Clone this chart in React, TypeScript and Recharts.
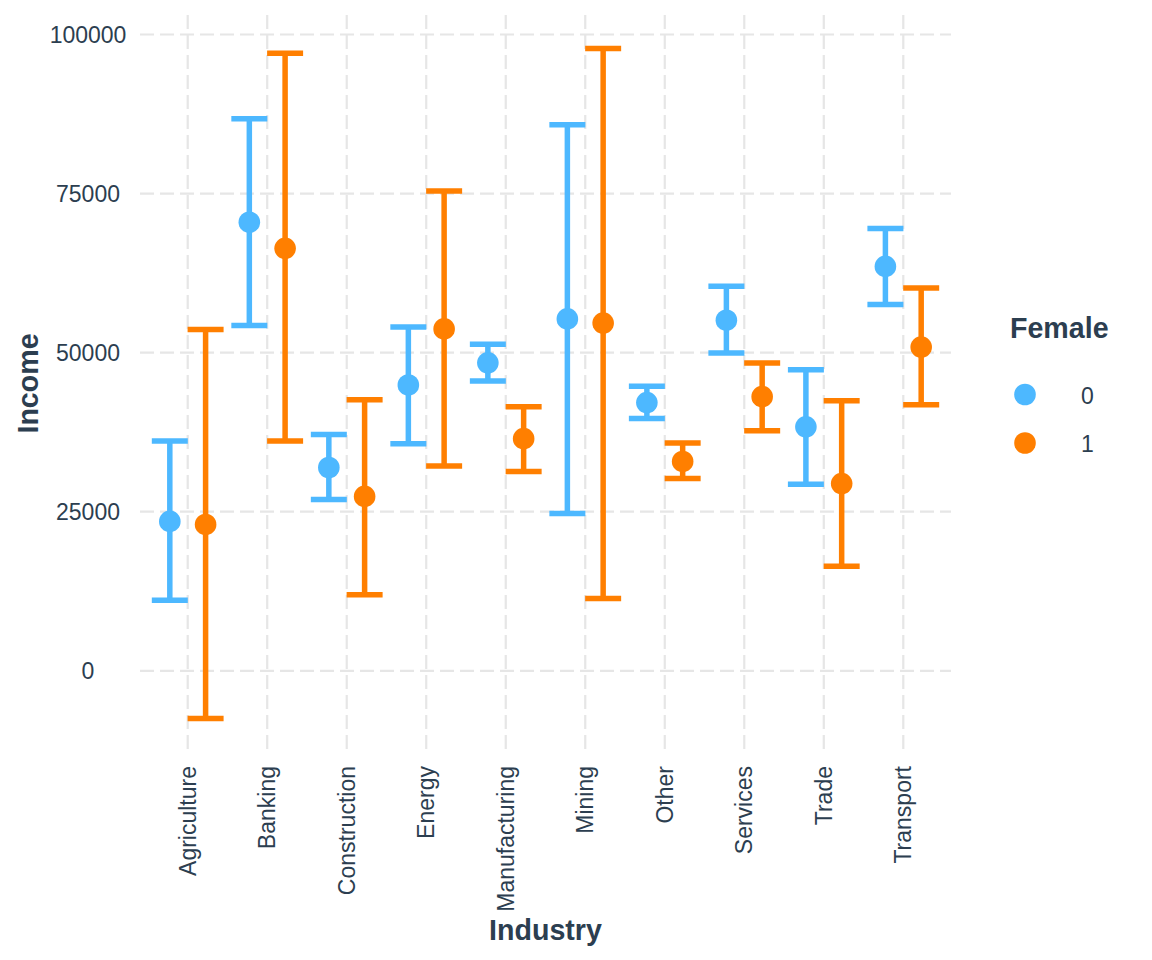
import React from 'react'
import { ComposedChart, Scatter, ErrorBar, XAxis, YAxis, CartesianGrid } from 'recharts'

const industries = [
  'Agriculture', 'Banking', 'Construction', 'Energy', 'Manufacturing',
  'Mining', 'Other', 'Services', 'Trade', 'Transport',
]

// Female = 0
const maleMean = [23480, 70500, 31950, 44920, 48400, 55300, 42150, 55100, 38350, 63550]
const maleLow = [11100, 54260, 26920, 35700, 45560, 24700, 39630, 49950, 29300, 57550]
const maleHigh = [36100, 86770, 37120, 54030, 51330, 85800, 44700, 60450, 47300, 69500]

// Female = 1
const femaleMean = [23000, 66400, 27410, 53730, 36480, 54650, 32900, 43080, 29430, 50880]
const femaleLow = [-7500, 36100, 11960, 32170, 31310, 11350, 30220, 37720, 16420, 41810]
const femaleHigh = [53620, 97050, 42600, 75400, 41510, 97800, 35780, 48370, 42450, 60150]

const groups = ['0', '1']
const yTicks = [0, 25000, 50000, 75000, 100000]
const xTicks = industries.map((_, i) => i + 1)

const BLUE = '#4db8ff'
const ORANGE = '#ff7f00'
const TEXT = '#2c3e50'
const FONT = '"Liberation Sans", Arial, sans-serif'
const DODGE = 0.225

const buildRows = (mean: number[], low: number[], high: number[], shift: number) =>
  industries.map((name, i) => ({
    name,
    x: i + 1 + shift,
    y: mean[i],
    err: [mean[i] - low[i], high[i] - mean[i]],
  }))

const maleRows = buildRows(maleMean, maleLow, maleHigh, -DODGE)
const femaleRows = buildRows(femaleMean, femaleLow, femaleHigh, DODGE)

// ggplot default expansion: 5% of the range on each side (0.6 for discrete x)
const yMin = Math.min(...maleLow, ...femaleLow)
const yMax = Math.max(...maleHigh, ...femaleHigh)
const pad = (yMax - yMin) * 0.05
const yDomain = [yMin - pad, yMax + pad]
const xDomain = [0.4, industries.length + 0.6]

// grid only at the tick values, no lines on the panel edges
const hLines = ({ offset }: any) =>
  yTicks.map((t) => offset.top + (offset.height * (yDomain[1] - t)) / (yDomain[1] - yDomain[0]))
const vLines = ({ offset }: any) =>
  xTicks.map((t) => offset.left + (offset.width * (t - xDomain[0])) / (xDomain[1] - xDomain[0]))

const IndustryTick = ({ x, y, payload }: any) => (
  <text
    x={x}
    y={y}
    dy="0.35em"
    transform={`rotate(-90, ${x}, ${y})`}
    textAnchor="end"
    fontSize={23}
    fontFamily={FONT}
    fill={TEXT}
  >
    {industries[payload.value - 1]}
  </text>
)

const IncomeTick = ({ x, y, payload }: any) => (
  <text x={x} y={y} dy="0.35em" textAnchor="middle" fontSize={23} fontFamily={FONT} fill={TEXT}>
    {payload.value}
  </text>
)

const XTitle = (props: any) => {
  const vb = props.viewBox ?? props
  return (
    <text
      x={vb.x + vb.width / 2}
      y={vb.y + 188}
      textAnchor="middle"
      fontSize={28.6}
      fontWeight="bold"
      fontFamily={FONT}
      fill={TEXT}
    >
      Industry
    </text>
  )
}

const YTitle = (props: any) => {
  const vb = props.viewBox ?? props
  const cx = vb.x + 37.5
  const cy = vb.y + vb.height / 2
  return (
    <text
      x={cx}
      y={cy}
      transform={`rotate(-90, ${cx}, ${cy})`}
      textAnchor="middle"
      fontSize={28.6}
      fontWeight="bold"
      fontFamily={FONT}
      fill={TEXT}
    >
      Income
    </text>
  )
}

const dot = (color: string) => (p: any) => <circle cx={p.cx} cy={p.cy} r={10.8} fill={color} />

export default function App() {
  const colors = [BLUE, ORANGE]
  return (
    <div style={{ position: 'absolute', left: 0, top: 0, width: 1152, height: 960, background: '#fff' }}>
      <ComposedChart width={1152} height={960} margin={{ top: 15, right: 201, bottom: 0, left: 0 }}>
        <CartesianGrid
          stroke="#e6e6e6"
          strokeWidth={2.2}
          strokeDasharray="14 6"
          horizontalCoordinatesGenerator={hLines}
          verticalCoordinatesGenerator={vLines}
        />
        <XAxis
          type="number"
          dataKey="x"
          domain={xDomain}
          ticks={xTicks}
          interval={0}
          allowDataOverflow
          axisLine={false}
          tickLine={false}
          tickSize={0}
          tickMargin={14}
          height={208}
          tick={<IndustryTick />}
          label={{ content: XTitle }}
        />
        <YAxis
          type="number"
          dataKey="y"
          domain={yDomain}
          ticks={yTicks}
          allowDataOverflow
          axisLine={false}
          tickLine={false}
          tickSize={0}
          tickMargin={52}
          width={140}
          tick={<IncomeTick />}
          label={{ content: YTitle }}
        />
        <Scatter name="0" data={maleRows} fill={BLUE} shape={dot(BLUE)} isAnimationActive={false}>
          <ErrorBar dataKey="err" direction="y" width={18} stroke={BLUE} strokeWidth={5.5} isAnimationActive={false} />
        </Scatter>
        <Scatter name="1" data={femaleRows} fill={ORANGE} shape={dot(ORANGE)} isAnimationActive={false}>
          <ErrorBar dataKey="err" direction="y" width={18} stroke={ORANGE} strokeWidth={5.5} isAnimationActive={false} />
        </Scatter>
      </ComposedChart>
      <svg width={142} height={160} style={{ position: 'absolute', left: 1010, top: 300 }}>
        <text x={0} y={38} fontSize={28.6} fontWeight="bold" fontFamily={FONT} fill={TEXT}>
          Female
        </text>
        {groups.map((g, i) => (
          <g key={g}>
            <circle cx={15} cy={94.5 + i * 48.5} r={10.8} fill={colors[i]} />
            <text x={71} y={104 + i * 48} fontSize={23} fontFamily={FONT} fill={TEXT}>
              {g}
            </text>
          </g>
        ))}
      </svg>
    </div>
  )
}
